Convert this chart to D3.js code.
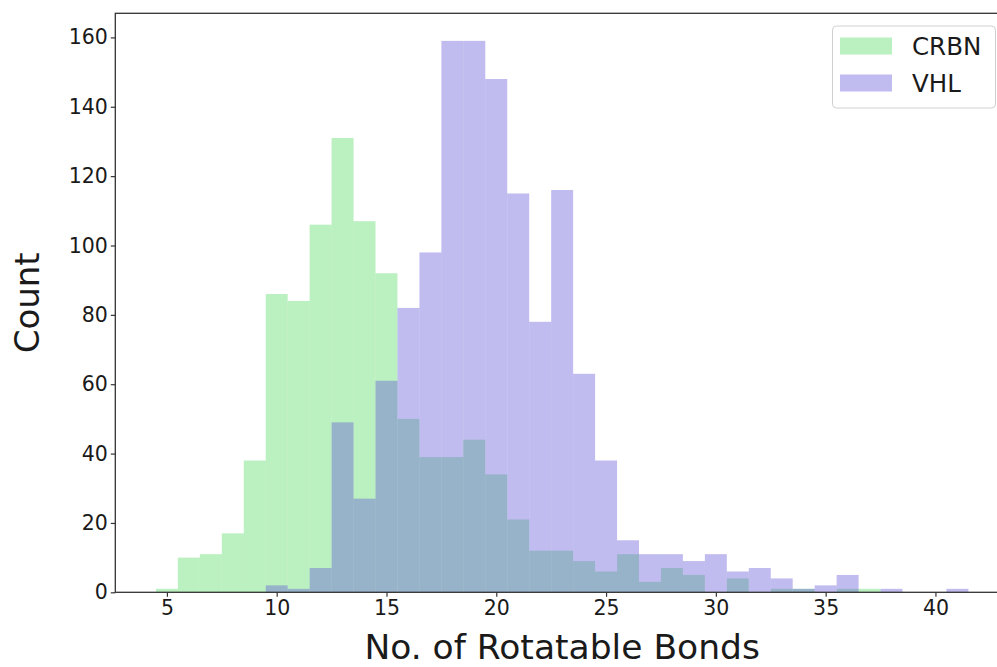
<!DOCTYPE html>
<html>
<head>
<meta charset="utf-8">
<script src="https://cdn.jsdelivr.net/npm/d3@7"></script>
<style>
    body { margin: 0; background: #fff; }
    text { font-family: "DejaVu Sans", sans-serif; fill: #1a1a1a; }
</style>
</head>
<body>
<svg id="chart" width="997" height="667"></svg>
<script>
// bin centres (each bin is one bond wide)
var binCenters = [5, 6, 7, 8, 9, 10, 11, 12, 13, 14, 15, 16, 17, 18, 19, 20, 21, 22, 23,
                  24, 25, 26, 27, 28, 29, 30, 31, 32, 33, 34, 35, 36, 37, 38, 39, 40, 41];
var crbnCounts = [1, 10, 11, 17, 38, 86, 84, 106, 131, 107, 92, 50, 39, 39, 44, 34, 21, 12, 12,
                  9, 6, 11, 3, 7, 5, 0, 4, 0, 1, 1, 0, 1, 1, 0, 0, 0, 0];
var vhlCounts  = [0, 0, 0, 0, 0, 2, 1, 7, 49, 27, 61, 82, 98, 159, 159, 148, 115, 78, 116,
                  63, 38, 15, 11, 11, 9, 11, 6, 7, 4, 1, 2, 5, 0, 1, 0, 0, 1];
var seriesNames = ["CRBN", "VHL"];
var xTicks = [5, 10, 15, 20, 25, 30, 35, 40];
var yTicks = [0, 20, 40, 60, 80, 100, 120, 140, 160];

var colors = ["rgb(85,217,97)", "rgb(97,87,215)"];
var barOpacity = 0.4;

var plotLeft = 115.3;
var plotRight = 1009;
var plotTop = 13.3;
var plotBottom = 592.3;

var svg = d3.select("#chart");

var x = d3.scaleLinear()
    .domain([2.65, 43.35])
    .range([plotLeft, plotRight]);

var y = d3.scaleLinear()
    .domain([0, 159 * 1.05])
    .range([plotBottom, plotTop]);

/**
 * Draw one histogram series as unit-wide bars
 * @param counts counts per bin, aligned with binCenters
 * @param color fill colour of the series
 */
var drawSeries = function(counts, color) {
    svg.append("g")
        .selectAll("rect")
        .data(binCenters.filter(function(c, i) { return counts[i] > 0; }))
        .join("rect")
            .attr("x", function(c) { return x(c - 0.5); })
            .attr("width", function(c) { return x(c + 0.5) - x(c - 0.5); })
            .attr("y", function(c) { return y(counts[binCenters.indexOf(c)]); })
            .attr("height", function(c) { return y(0) - y(counts[binCenters.indexOf(c)]); })
            .attr("fill", color)
            .attr("fill-opacity", barOpacity);
};

drawSeries(crbnCounts, colors[0]);
drawSeries(vhlCounts, colors[1]);

// axes
var xAxis = svg.append("g")
    .attr("transform", "translate(0," + plotBottom + ")")
    .call(d3.axisBottom(x).tickValues(xTicks).tickSize(4.5).tickPadding(4).tickFormat(d3.format("d")));
var yAxis = svg.append("g")
    .attr("transform", "translate(" + plotLeft + ",0)")
    .call(d3.axisLeft(y).tickValues(yTicks).tickSize(4.5).tickPadding(3).tickFormat(d3.format("d")));

[xAxis, yAxis].forEach(function(a) {
    a.select(".domain").remove();
    a.selectAll(".tick line").attr("stroke", "#333").attr("stroke-width", 1.2);
    a.selectAll(".tick text")
        .style("font-family", "DejaVu Sans")
        .style("font-size", "20.5px")
        .attr("fill", "#1a1a1a");
});

// spines
svg.append("rect")
    .attr("x", plotLeft)
    .attr("y", plotTop)
    .attr("width", plotRight - plotLeft)
    .attr("height", plotBottom - plotTop)
    .attr("fill", "none")
    .attr("stroke", "#333")
    .attr("stroke-width", 1.3);

// axis labels
svg.append("text")
    .attr("x", (plotLeft + plotRight) / 2)
    .attr("y", 659)
    .attr("text-anchor", "middle")
    .style("font-size", "34.5px")
    .text("No. of Rotatable Bonds");

svg.append("text")
    .attr("transform", "translate(39," + (plotTop + plotBottom) / 2 + ") rotate(-90)")
    .attr("text-anchor", "middle")
    .style("font-size", "34px")
    .text("Count");

// legend
var legend = svg.append("g");
legend.append("rect")
    .attr("x", 832.5)
    .attr("y", 26)
    .attr("width", 163)
    .attr("height", 82)
    .attr("rx", 4)
    .attr("fill", "#fff")
    .attr("fill-opacity", 0.8)
    .attr("stroke", "#d0d0d0");

seriesNames.forEach(function(name, i) {
    legend.append("rect")
        .attr("x", 840)
        .attr("y", 37.5 + i * 37)
        .attr("width", 52)
        .attr("height", 17)
        .attr("fill", colors[i])
        .attr("fill-opacity", barOpacity);
    legend.append("text")
        .attr("x", 912)
        .attr("y", 55 + i * 37)
        .style("font-size", "24.5px")
        .text(name);
});
</script>
</body>
</html>
